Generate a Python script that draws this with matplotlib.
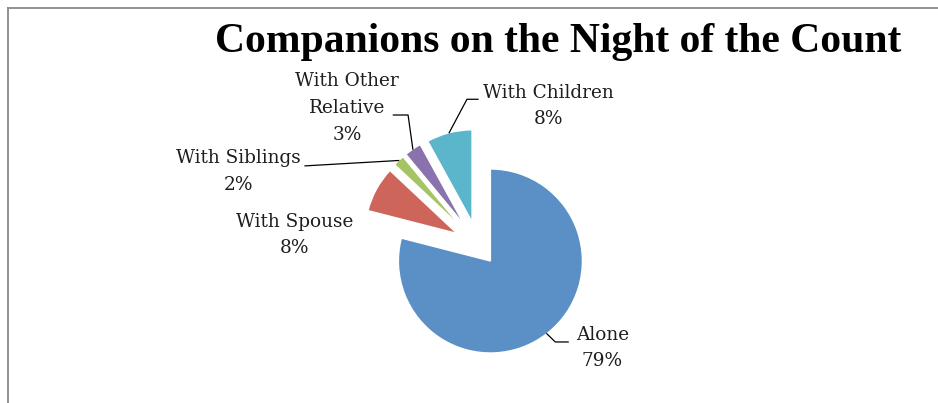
import numpy as np
import matplotlib
matplotlib.use("Agg")
import matplotlib.pyplot as plt
from matplotlib.lines import Line2D

# Data
categories = ["Alone", "With Spouse", "With Siblings", "With Other\nRelative", "With Children"]
shares = [79, 8, 2, 3, 8]
colors = ["#5B90C6", "#CD655A", "#A5C463", "#8A72AE", "#5BB6CC"]
explode = [0.22, 0.26, 0.26, 0.26, 0.26]
title = "Companions on the Night of the Count"

W, H, DPI = 938, 403, 100
fig = plt.figure(figsize=(W / DPI, H / DPI), dpi=DPI)
fig.patch.set_facecolor("white")

# Pie geometry in pixels: centre and radius
cx_px, cy_px, r_px = 478, 245, 92
ax = fig.add_axes([0, 0, 1, 1])
wedges, _ = ax.pie(shares, colors=colors, explode=explode, startangle=90,
                   counterclock=False, radius=1.0,
                   wedgeprops=dict(edgecolor="white", linewidth=1.0))
ax.set_xlim(-cx_px / r_px, (W - cx_px) / r_px)
ax.set_ylim(-(H - cy_px) / r_px, cy_px / r_px)
ax.set_aspect("auto")
ax.axis("off")

label_font = dict(family="DejaVu Serif", size=13.3, color="#1e1e1e")

def arc_point(i, rad=1.0):
    w = wedges[i]
    mid = np.deg2rad((w.theta1 + w.theta2) / 2)
    cx, cy = w.center
    return cx + rad * np.cos(mid), cy + rad * np.sin(mid)

# label text positions (data units) and leader-line bends
label_pos = {
    0: (1.35, -1.12),
    1: (-1.99, 0.11),
    2: (-2.60, 0.80),
    3: (-1.42, 1.49),
    4: (0.77, 1.51),
}
leaders = {
    0: [(0.84, -1.054), (0.98, -1.054)],
    2: [(-1.88, 0.86)],
    3: [(-0.76, 1.413), (-0.92, 1.413)],
    4: [(-0.12, 1.584), (0.0, 1.584)],
}

for i, (name, val) in enumerate(zip(categories, shares)):
    x, y = label_pos[i]
    ax.text(x, y, f"{name}\n{val}%", ha="center", va="center",
            multialignment="center", linespacing=1.62, **label_font)
    if i in leaders:
        pts = [arc_point(i, 1.0)] + leaders[i]
        xs, ys = zip(*pts)
        ax.add_line(Line2D(xs, ys, color="black", lw=0.9))

# title fitted to its span
t = fig.text((215 + 902) / 2 / W, 1 - 52 / H, title, ha="center", va="baseline",
             family="Liberation Serif", weight="bold", size=26)
fig.canvas.draw()
bb = t.get_window_extent()
t.set_fontsize(26 * 687 / bb.width)

# chart frame (top and left edges visible)
fig.add_artist(Line2D([7.5 / W, 1.0], [1 - 7.5 / H, 1 - 7.5 / H], transform=fig.transFigure,
                      color="#8a8a8a", lw=1.3))
fig.add_artist(Line2D([7.5 / W, 7.5 / W], [0.0, 1 - 7.5 / H], transform=fig.transFigure,
                      color="#8a8a8a", lw=1.3))

fig.savefig("out.png", dpi=DPI, facecolor="white")
